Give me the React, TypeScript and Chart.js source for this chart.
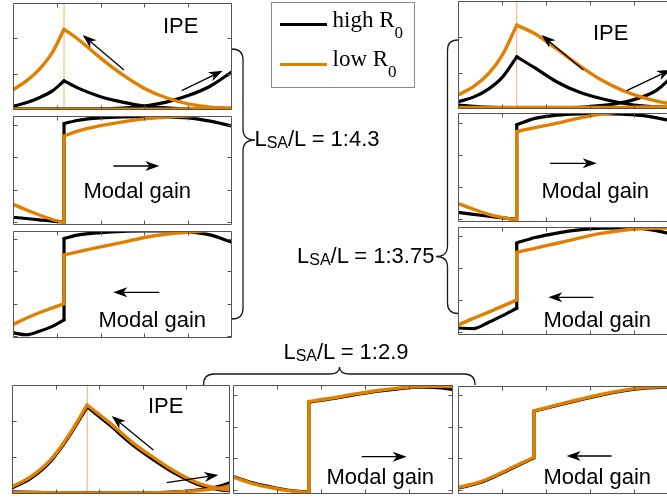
import React, { useEffect, useRef } from 'react';
import { Chart, registerables } from 'chart.js';

Chart.register(...registerables);

// ---------------- data ----------------
const SERIES = ['high R0', 'low R0'];
const X_TICKS = [0.2, 0.4, 0.6, 0.8];
const Y_TICKS_IPE = [1, 2];
const Y_TICKS_GAIN = [0, 1, 2, 3];

// L_SA/L = 1:4.3 (left column)
const A_SA = 0.233;
const A_XL = [0, 0.06, 0.12, 0.18, 0.233];
const A_XR = [0.233, 0.3, 0.4, 0.5, 0.6, 0.7, 0.8, 0.9, 1.0];
const A_XF = [0, 0.233, 0.4, 0.5, 0.6, 0.7, 0.8, 0.9, 1.0];
const A_IPE_HIGH_PEAK_L = [0.10, 0.20, 0.34, 0.53, 0.81];
const A_IPE_HIGH_PEAK_R = [0.81, 0.60, 0.37, 0.22, 0.11, 0.06, 0.03, 0.02, 0.02];
const A_IPE_HIGH_RISE = [0.04, 0.03, 0.03, 0.05, 0.11, 0.22, 0.40, 0.66, 1.06];
const A_IPE_LOW_PEAK_L = [0.56, 0.80, 1.13, 1.60, 2.24];
const A_IPE_LOW_PEAK_R = [2.24, 1.95, 1.44, 0.98, 0.60, 0.34, 0.17, 0.08, 0.05];
const A_IPE_LOW_RISE = [0.03, 0.02, 0.02, 0.02, 0.02, 0.02, 0.03, 0.04, 0.05];
const A_GF_HIGH_L = [0.15, 0.11, 0.07, 0.03, 0.01];
const A_GF_HIGH_R = [3.05, 3.15, 3.22, 3.25, 3.26, 3.25, 3.22, 3.12, 2.97];
const A_GF_LOW_L = [0.55, 0.38, 0.22, 0.08, -0.02];
const A_GF_LOW_R = [2.66, 2.82, 2.98, 3.10, 3.19, 3.24, 3.28, 3.33, 3.38];
const A_GB_HIGH_L = [0.10, 0.04, 0.15, 0.30, 0.50];
const A_GB_HIGH_R = [3.02, 3.13, 3.20, 3.24, 3.25, 3.25, 3.22, 3.13, 2.90];
const A_GB_LOW_L = [0.36, 0.55, 0.72, 0.87, 1.00];
const A_GB_LOW_R = [2.51, 2.61, 2.76, 2.90, 3.05, 3.15, 3.21, 3.27, 3.33];

// L_SA/L = 1:3.75 (right column)
const B_SA = 0.267;
const B_XL = [0, 0.07, 0.14, 0.2, 0.267];
const B_XR = [0.267, 0.35, 0.45, 0.55, 0.65, 0.75, 0.85, 0.95, 1.0];
const B_XF = [0, 0.1, 0.267, 0.45, 0.6, 0.7, 0.8, 0.9, 1.0];
const B_IPE_HIGH_PEAK_L = [0.19, 0.32, 0.55, 0.86, 1.44];
const B_IPE_HIGH_PEAK_R = [1.44, 1.13, 0.74, 0.46, 0.28, 0.15, 0.07, 0.04, 0.03];
const B_IPE_HIGH_RISE = [0.10, 0.05, 0.02, 0.02, 0.06, 0.12, 0.25, 0.50, 1.05];
const B_IPE_LOW_PEAK_L = [0.38, 0.61, 0.98, 1.47, 2.32];
const B_IPE_LOW_PEAK_R = [2.32, 2.08, 1.65, 1.20, 0.80, 0.50, 0.29, 0.15, 0.10];
const B_IPE_LOW_RISE = [0.03, 0.03, 0.03, 0.03, 0.03, 0.03, 0.04, 0.05, 0.06];
const B_GF_HIGH_L = [0.20, 0.14, 0.08, 0.03, -0.02];
const B_GF_HIGH_R = [2.95, 3.15, 3.25, 3.29, 3.30, 3.28, 3.23, 3.10, 3.02];
const B_GF_LOW_L = [0.48, 0.30, 0.14, 0.04, -0.03];
const B_GF_LOW_R = [2.74, 2.86, 3.00, 3.16, 3.29, 3.36, 3.42, 3.46, 3.48];
const B_GB_HIGH_L = [0.12, 0.10, 0.30, 0.50, 0.74];
const B_GB_HIGH_R = [2.79, 2.96, 3.10, 3.20, 3.25, 3.26, 3.23, 3.10, 3.00];
const B_GB_LOW_L = [0.21, 0.42, 0.62, 0.80, 1.00];
const B_GB_LOW_R = [2.50, 2.62, 2.78, 2.94, 3.09, 3.19, 3.24, 3.26, 3.27];

// L_SA/L = 1:2.9 (bottom row)
const C_SA = 0.345;
const C_XL = [0, 0.09, 0.18, 0.26, 0.345];
const C_XR = [0.345, 0.45, 0.55, 0.65, 0.75, 0.85, 0.95, 1.0];
const C_XF = [0, 0.345, 0.6, 0.75, 0.85, 0.95, 1.0];
const C_IPE_HIGH_PEAK_L = [0.15, 0.44, 0.91, 1.56, 2.39];
const C_IPE_HIGH_PEAK_R = [2.39, 1.88, 1.36, 0.93, 0.55, 0.26, 0.11, 0.08];
const C_IPE_HIGH_RISE = [0.05, 0.02, 0.02, 0.05, 0.10, 0.20, 0.30];
const C_IPE_LOW_PEAK_L = [0.19, 0.48, 0.95, 1.60, 2.44];
const C_IPE_LOW_PEAK_R = [2.44, 1.94, 1.42, 0.99, 0.60, 0.30, 0.14, 0.10];
const C_IPE_LOW_RISE = [0.03, 0.02, 0.02, 0.04, 0.08, 0.15, 0.22];
const C_GF_HIGH_L = [0.42, 0.22, 0.08, -0.02, -0.07];
const C_GF_HIGH_R = [2.77, 2.88, 3.00, 3.11, 3.19, 3.24, 3.22, 3.16];
const C_GF_LOW_L = [0.40, 0.20, 0.06, -0.03, -0.08];
const C_GF_LOW_R = [2.79, 2.90, 3.02, 3.13, 3.21, 3.26, 3.27, 3.26];
const C_GB_HIGH_L = [0.05, 0.20, 0.46, 0.73, 1.01];
const C_GB_HIGH_R = [2.50, 2.68, 2.85, 3.01, 3.14, 3.23, 3.26, 3.27];
const C_GB_LOW_L = [0.07, 0.22, 0.48, 0.75, 1.03];
const C_GB_LOW_R = [2.51, 2.70, 2.87, 3.03, 3.16, 3.25, 3.28, 3.29];

// ---------------- styles ----------------
const BLACK = '#000000';
const ORANGE = '#e07f00';
const SA_LINE = '#f0b070';
const FRAME = '#555555';
const PAD = 3;
const SANS = '"Liberation Sans", Arial, Helvetica, sans-serif';
const SERIF = '"Liberation Serif", "Times New Roman", Times, serif';

type Seg = [number[], number[]];
type Curve = { color: string; width: number; label: string; segs: Seg[] };
type PanelDef = {
  box: [number, number, number, number];
  yRange: [number, number];
  yTicks: number[];
  sa?: number;
  curves: Curve[];
};

function ipeCurves(xl: number[], xr: number[], xf: number[], lpl: number[], lpr: number[], lr: number[], hpl: number[], hpr: number[], hr: number[]): Curve[] {
  return [
    { color: ORANGE, width: 3.4, label: SERIES[1], segs: [[xl, lpl], [xr, lpr]] },
    { color: ORANGE, width: 3.4, label: SERIES[1], segs: [[xf, lr]] },
    { color: BLACK, width: 3.2, label: SERIES[0], segs: [[xl, hpl], [xr, hpr]] },
    { color: BLACK, width: 3.2, label: SERIES[0], segs: [[xf, hr]] },
  ];
}
function gainCurves(xl: number[], xr: number[], ll: number[], lr: number[], hl: number[], hr: number[]): Curve[] {
  return [
    { color: ORANGE, width: 3.4, label: SERIES[1], segs: [[xl, ll], [xr, lr]] },
    { color: BLACK, width: 3.2, label: SERIES[0], segs: [[xl, hl], [xr, hr]] },
  ];
}

const PANELS: PanelDef[] = [
  { box: [13, 3, 219, 107], yRange: [0, 2.97], yTicks: Y_TICKS_IPE, sa: A_SA,
    curves: ipeCurves(A_XL, A_XR, A_XF, A_IPE_LOW_PEAK_L, A_IPE_LOW_PEAK_R, A_IPE_LOW_RISE, A_IPE_HIGH_PEAK_L, A_IPE_HIGH_PEAK_R, A_IPE_HIGH_RISE) },
  { box: [13, 116, 219, 109], yRange: [-0.09, 3.28], yTicks: Y_TICKS_GAIN,
    curves: gainCurves(A_XL, A_XR, A_GF_LOW_L, A_GF_LOW_R, A_GF_HIGH_L, A_GF_HIGH_R) },
  { box: [13, 231, 219, 107], yRange: [-0.06, 3.25], yTicks: Y_TICKS_GAIN,
    curves: gainCurves(A_XL, A_XR, A_GB_LOW_L, A_GB_LOW_R, A_GB_HIGH_L, A_GB_HIGH_R) },
  { box: [458, 1, 220, 108], yRange: [-0.01, 2.99], yTicks: Y_TICKS_IPE, sa: B_SA,
    curves: ipeCurves(B_XL, B_XR, B_XF, B_IPE_LOW_PEAK_L, B_IPE_LOW_PEAK_R, B_IPE_LOW_RISE, B_IPE_HIGH_PEAK_L, B_IPE_HIGH_PEAK_R, B_IPE_HIGH_RISE) },
  { box: [458, 113, 220, 109], yRange: [-0.1, 3.32], yTicks: Y_TICKS_GAIN,
    curves: gainCurves(B_XL, B_XR, B_GF_LOW_L, B_GF_LOW_R, B_GF_HIGH_L, B_GF_HIGH_R) },
  { box: [458, 227, 220, 108], yRange: [-0.1, 3.29], yTicks: Y_TICKS_GAIN,
    curves: gainCurves(B_XL, B_XR, B_GB_LOW_L, B_GB_LOW_R, B_GB_HIGH_L, B_GB_HIGH_R) },
  { box: [12, 385, 218, 109], yRange: [-0.01, 2.99], yTicks: Y_TICKS_IPE, sa: C_SA,
    curves: ipeCurves(C_XL, C_XR, C_XF, C_IPE_LOW_PEAK_L, C_IPE_LOW_PEAK_R, C_IPE_LOW_RISE, C_IPE_HIGH_PEAK_L, C_IPE_HIGH_PEAK_R, C_IPE_HIGH_RISE) },
  { box: [233, 385, 220, 109], yRange: [-0.13, 3.31], yTicks: Y_TICKS_GAIN,
    curves: gainCurves(C_XL, C_XR, C_GF_LOW_L, C_GF_LOW_R, C_GF_HIGH_L, C_GF_HIGH_R) },
  { box: [458, 386, 220, 108], yRange: [-0.14, 3.3], yTicks: Y_TICKS_GAIN,
    curves: gainCurves(C_XL, C_XR, C_GB_LOW_L, C_GB_LOW_R, C_GB_HIGH_L, C_GB_HIGH_R) },
];

// annotation layout
const ARROWS: [number, number, number, number][] = [
  [124, 70, 82.7, 35], [181.7, 90.7, 222.7, 70.7],
  [113.3, 166, 159.3, 166],
  [159.3, 292.3, 113.3, 292.3],
  [583.3, 70, 541.7, 35], [626.7, 90.7, 671, 69.5],
  [550, 163.3, 596.7, 163.3],
  [593.3, 297.3, 548.3, 297.3],
  [153.3, 450, 111.7, 416], [166.7, 482.7, 218.3, 475],
  [361.7, 456.7, 406.7, 456.7],
  [611.7, 456, 566.7, 456],
];
const IPE_TEXT: [number, number][] = [[163, 14.7], [593, 22], [148, 395.4]];
const GAIN_TEXT: [number, number][] = [[83.4, 179.7], [98.4, 309.1], [541.4, 179.7], [543.4, 308.7], [326.4, 466.4], [543.4, 466.4]];
const RATIO_TEXT: [string, number, number][] = [['1:4.3', 254.4, 128.4], ['1:3.75', 297, 244.7], ['1:2.9', 283.4, 341.4]];
const BRACES = [
  'M 232 49 Q 243 49 243 60 L 243 129 Q 243 140 255 140 Q 243 140 243 151 L 243 308 Q 243 319 232 319',
  'M 458 40 Q 447.5 40 447.5 50 L 447.5 246 Q 447.5 256.5 436 256.5 Q 447.5 256.5 447.5 267 L 447.5 303 Q 447.5 313.5 458 313.5',
  'M 203.5 385 Q 203.5 374 214 374 L 329 374 Q 339.5 374 339.5 367 Q 339.5 374 350 374 L 464.5 374 Q 475 374 475 385',
];

const framePlugin = {
  id: 'frame',
  afterDatasetsDraw(chart: any, _args: any, opts: any) {
    const { ctx, chartArea: a, scales } = chart;
    const L = Math.round(a.left) + 0.5;
    const R = Math.round(a.right) - 0.5;
    const T = Math.round(a.top) + 0.5;
    const B = Math.round(a.bottom) - 0.5;
    ctx.save();
    ctx.strokeStyle = FRAME;
    ctx.lineWidth = 1;
    ctx.beginPath();
    ctx.rect(L, T, R - L, B - T);
    const tl = 4;
    (opts.xTicks || []).forEach((v: number) => {
      const px = Math.round(scales.x.getPixelForValue(v)) + 0.5;
      ctx.moveTo(px, B); ctx.lineTo(px, B - tl);
      ctx.moveTo(px, T); ctx.lineTo(px, T + tl);
    });
    (opts.yTicks || []).forEach((v: number) => {
      const py = Math.round(scales.y.getPixelForValue(v)) + 0.5;
      ctx.moveTo(L, py); ctx.lineTo(L + tl, py);
      ctx.moveTo(R, py); ctx.lineTo(R - tl, py);
    });
    ctx.stroke();
    ctx.restore();
  },
};

function buildDatasets(p: PanelDef) {
  const ds: any[] = [];
  const base = { pointRadius: 0, fill: false, borderCapStyle: 'round', borderJoinStyle: 'round' };
  p.curves.forEach((c, ci) => {
    c.segs.forEach((s, si) => {
      ds.push({ ...base, label: c.label, data: s[0].map((x, i) => ({ x, y: s[1][i] })), borderColor: c.color, borderWidth: c.width, cubicInterpolationMode: 'monotone', order: ci });
      if (si > 0) {
        const prev = c.segs[si - 1];
        const n = prev[0].length - 1;
        const a = { x: prev[0][n], y: prev[1][n] };
        const b = { x: s[0][0], y: s[1][0] };
        if (a.x !== b.x || a.y !== b.y) {
          ds.push({ ...base, label: c.label, data: [a, b], borderColor: c.color, borderWidth: c.width, tension: 0, order: ci });
        }
      }
    });
  });
  if (p.sa !== undefined) {
    ds.push({ label: 'SA', data: [{ x: p.sa, y: p.yRange[0] }, { x: p.sa, y: p.yRange[1] }], borderColor: SA_LINE, borderWidth: 1, pointRadius: 0, tension: 0, order: 99 });
  }
  return ds;
}

function Panel({ p }: { p: PanelDef }) {
  const ref = useRef<HTMLCanvasElement>(null);
  const [x, y, w, h] = p.box;
  useEffect(() => {
    if (!ref.current) return;
    const chart = new Chart(ref.current, {
      type: 'line',
      data: { datasets: buildDatasets(p) },
      options: {
        animation: false,
        responsive: false,
        maintainAspectRatio: false,
        events: [],
        layout: { padding: PAD },
        scales: {
          x: { type: 'linear', min: 0, max: 1, display: false },
          y: { type: 'linear', min: p.yRange[0], max: p.yRange[1], display: false },
        },
        plugins: {
          legend: { display: false },
          tooltip: { enabled: false },
          frame: { xTicks: X_TICKS, yTicks: p.yTicks },
        } as any,
      },
      plugins: [framePlugin],
    });
    return () => chart.destroy();
  }, [p]);
  return (
    <canvas
      ref={ref}
      width={w + 2 * PAD}
      height={h + 2 * PAD}
      style={{ position: 'absolute', left: x - PAD, top: y - PAD, width: w + 2 * PAD, height: h + 2 * PAD }}
    />
  );
}

function arrowShape(x1: number, y1: number, x2: number, y2: number) {
  const dx = x2 - x1, dy = y2 - y1;
  const len = Math.hypot(dx, dy);
  const ux = dx / len, uy = dy / len;
  const nx = -uy, ny = ux;
  const hl = 14, hw = 5, notch = 10;
  const bx = x2 - ux * hl, by = y2 - uy * hl;
  const nxp = x2 - ux * notch, nyp = y2 - uy * notch;
  const head = `M ${x2} ${y2} L ${bx + nx * hw} ${by + ny * hw} L ${nxp} ${nyp} L ${bx - nx * hw} ${by - ny * hw} Z`;
  return { line: { x1, y1, x2: nxp, y2: nyp }, head };
}

const textBase: React.CSSProperties = {
  position: 'absolute',
  fontFamily: SANS,
  fontSize: 22,
  lineHeight: '22px',
  whiteSpace: 'nowrap',
  color: '#000',
};

export default function App() {
  return (
    <div style={{ position: 'fixed', left: 0, top: 0, width: 667, height: 500, overflow: 'hidden', background: '#fff' }}>
      {PANELS.map((p, i) => (
        <Panel key={i} p={p} />
      ))}
      <svg width={667} height={500} style={{ position: 'absolute', left: 0, top: 0, pointerEvents: 'none' }}>
        {BRACES.map((d, i) => (
          <path key={'b' + i} d={d} fill="none" stroke="#1a1a1a" strokeWidth={1.3} />
        ))}
        {ARROWS.map((a, i) => {
          const s = arrowShape(a[0], a[1], a[2], a[3]);
          return (
            <g key={'a' + i}>
              <line {...s.line} stroke="#000" strokeWidth={1.3} />
              <path d={s.head} fill="#000" />
            </g>
          );
        })}
      </svg>
      {IPE_TEXT.map((t, i) => (
        <div key={'i' + i} style={{ ...textBase, left: t[0], top: t[1] }}>IPE</div>
      ))}
      {GAIN_TEXT.map((t, i) => (
        <div key={'g' + i} style={{ ...textBase, left: t[0], top: t[1] }}>Modal gain</div>
      ))}
      {RATIO_TEXT.map((t, i) => (
        <div key={'r' + i} style={{ ...textBase, left: t[1], top: t[2] }}>
          L<span style={{ fontSize: 16, position: 'relative', top: 2 }}>SA</span>/L = {t[0]}
        </div>
      ))}
      <div style={{ position: 'absolute', left: 271, top: 2, width: 144, height: 86, border: '1px solid #8a8a8a', boxSizing: 'border-box', background: '#fff' }} />
      <div style={{ position: 'absolute', left: 280, top: 22.5, width: 47, height: 3, background: BLACK }} />
      <div style={{ position: 'absolute', left: 280, top: 62.5, width: 47, height: 3, background: ORANGE }} />
      {[SERIES[0], SERIES[1]].map((s, i) => (
        <div key={'l' + i} style={{ ...textBase, fontFamily: SERIF, fontSize: 23, lineHeight: '23px', left: 332.5, top: i === 0 ? 8 : 47.4 }}>
          {s.slice(0, -1)}
          <span style={{ fontSize: 17, position: 'relative', top: 11 }}>{s.slice(-1)}</span>
        </div>
      ))}
    </div>
  );
}
